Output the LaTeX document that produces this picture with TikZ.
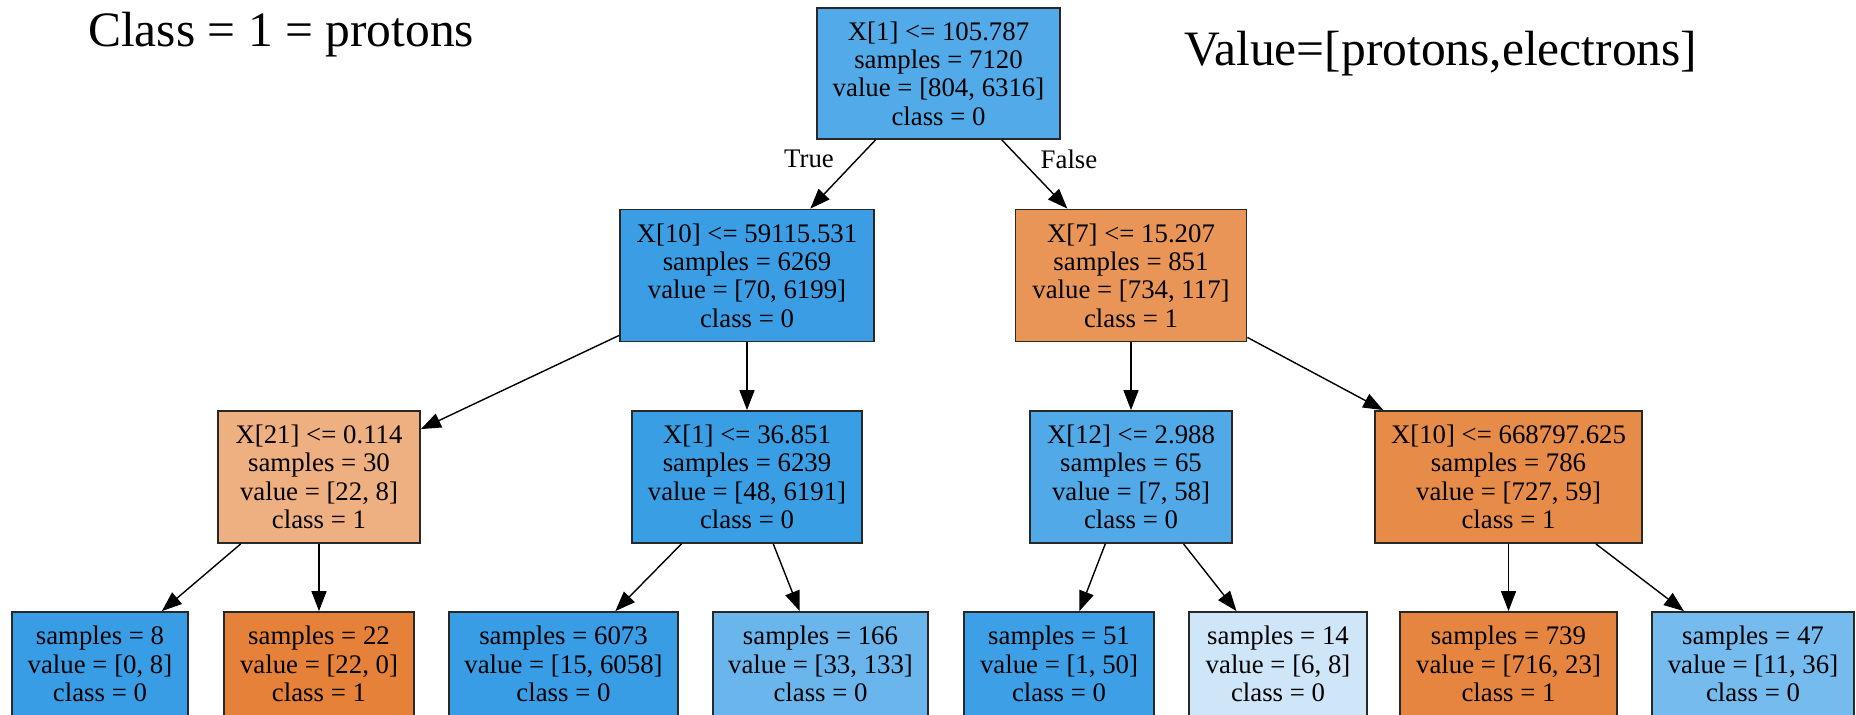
\documentclass[tikz,border=0pt]{standalone}
\usepackage{fontspec}
\setmainfont{Liberation Serif}
\usetikzlibrary{arrows.meta, positioning}
\definecolor{valframe}  {RGB}{ 40,  40,  40}
\definecolor{fillroot}  {RGB}{ 82, 170, 232}
\definecolor{fillnA}    {RGB}{ 59, 158, 229}
\definecolor{fillnB}    {RGB}{233, 149,  88}
\definecolor{fillnC}    {RGB}{238, 175, 129}
\definecolor{fillnD}    {RGB}{ 58, 158, 229}
\definecolor{fillnE}    {RGB}{ 81, 169, 232}
\definecolor{fillnF}    {RGB}{231, 139,  73}
\definecolor{fillblue}  {RGB}{ 57, 157, 229}
\definecolor{fillorange}{RGB}{229, 129,  57}
\definecolor{fillleafD} {RGB}{106, 181, 236}
\definecolor{fillleafE} {RGB}{ 61, 159, 229}
\definecolor{fillleafF} {RGB}{206, 230, 248}
\definecolor{fillleafG} {RGB}{230, 133,  63}
\definecolor{fillleafH} {RGB}{118, 187, 237}
\newcommand{\treefont}{\fontsize{26.8}{28.4}\selectfont}
\newcommand{\keyfont}{\fontsize{49.5}{55}\selectfont}
\begin{document}
\begin{tikzpicture}[x=1pt,y=-1pt,
	tbox/.style={draw=valframe, line width=1.8pt, fill=#1, inner sep=0pt,
		align=center, font=\treefont, minimum height=132pt},
	tleaf/.style={tbox=#1, minimum height=104pt},
	tlink/.style={line width=1.4pt, -{Triangle[length=20pt,width=15pt]}}]
				\useasboundingbox (0,0) rectangle (1856,715);
				\clip (0,0) rectangle (1856,715);
				\node[anchor=base west, inner sep=0pt, font=\keyfont] (keyclass) at (88,46) {Class = 1 = protons};
				\node[anchor=base west, inner sep=0pt, font=\keyfont] (keyvalue) at (1184,65) {Value=[protons,electrons]};
				% splits
				\node[tbox=fillroot, minimum width=243pt, minimum height=131pt] (root) at (938.5,73.5)
					{X[1] <= 105.787\\samples = 7120\\value = [804, 6316]\\class = 0};
				\node[tbox=fillnA, minimum width=254pt] (nA) at (747,275.5)
					{X[10] <= 59115.531\\samples = 6269\\value = [70, 6199]\\class = 0};
				\node[tbox=fillnB, minimum width=231pt] (nB) at (1131,275.5)
					{X[7] <= 15.207\\samples = 851\\value = [734, 117]\\class = 1};
				\node[tbox=fillnC, minimum width=202pt] (nC) at (319,477)
					{X[21] <= 0.114\\samples = 30\\value = [22, 8]\\class = 1};
				\node[tbox=fillnD, minimum width=230pt] (nD) at (747,477)
					{X[1] <= 36.851\\samples = 6239\\value = [48, 6191]\\class = 0};
				\node[tbox=fillnE, minimum width=202pt] (nE) at (1131,477)
					{X[12] <= 2.988\\samples = 65\\value = [7, 58]\\class = 0};
				\node[tbox=fillnF, minimum width=267pt] (nF) at (1508.5,477)
					{X[10] <= 668797.625\\samples = 786\\value = [727, 59]\\class = 1};
				% leaves
				\node[tleaf=fillblue, minimum width=176pt] (lA) at (100,664) {samples = 8\\value = [0, 8]\\class = 0};
				\node[tleaf=fillorange, minimum width=190pt] (lB) at (319,664) {samples = 22\\value = [22, 0]\\class = 1};
				\node[tleaf=fillblue, minimum width=229pt] (lC) at (563.5,664) {samples = 6073\\value = [15, 6058]\\class = 0};
				\node[tleaf=fillleafD, minimum width=215pt] (lD) at (820.5,664) {samples = 166\\value = [33, 133]\\class = 0};
				\node[tleaf=fillleafE, minimum width=190pt] (lE) at (1059,664) {samples = 51\\value = [1, 50]\\class = 0};
				\node[tleaf=fillleafF, minimum width=178pt] (lF) at (1278,664) {samples = 14\\value = [6, 8]\\class = 0};
				\node[tleaf=fillleafG, minimum width=217pt] (lG) at (1508.5,664) {samples = 739\\value = [716, 23]\\class = 1};
				\node[tleaf=fillleafH, minimum width=202pt] (lH) at (1753,664) {samples = 47\\value = [11, 36]\\class = 0};
				\foreach \a/\b in {root/nA,root/nB,nA/nC,nA/nD,nB/nE,nB/nF,nC/lA,nC/lB,nD/lC,nD/lD,nE/lE,nE/lF,nF/lG,nF/lH}
					{\draw[tlink] (\a) -- (\b);}
				\node[font=\treefont] (lbltrue) at (809,159) {True};
				\node[font=\treefont] (lblfalse) at (1069,159) {False};
			\end{tikzpicture}
\end{document}
